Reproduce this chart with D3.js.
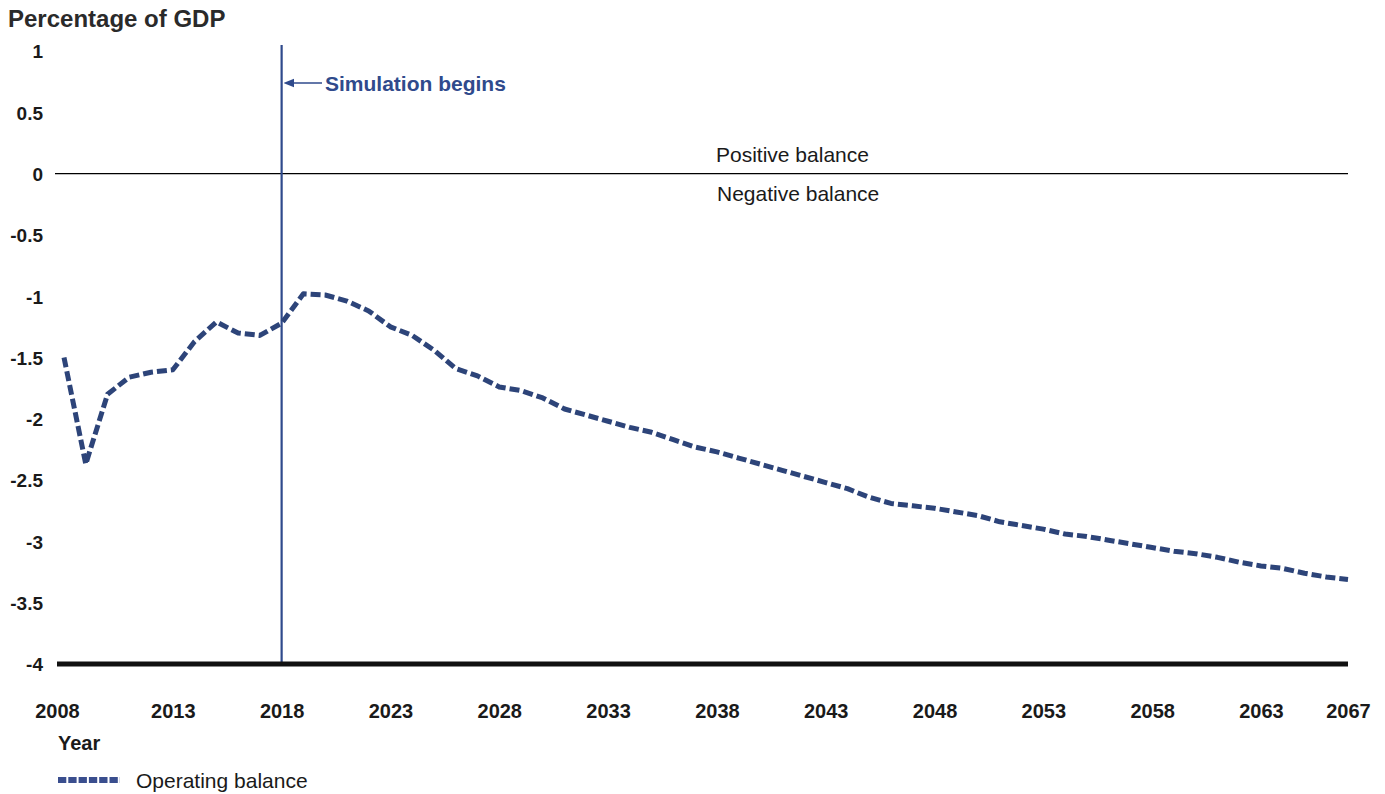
<!DOCTYPE html>
<html>
<head>
<meta charset="utf-8">
<script src="https://cdn.jsdelivr.net/npm/d3@7"></script>
<style>
    body { margin: 0; background: #fff; }
    svg { display: block; font-family: "Liberation Sans", Arial, sans-serif; }
</style>
</head>
<body>
<svg id="chart" width="1385" height="794"></svg>
<script>
// data
var years = d3.range(2008, 2068);
var operatingBalance = [
    -1.50, -2.37, -1.80, -1.66, -1.62, -1.60, -1.37, -1.21, -1.30, -1.32,
    -1.22, -0.98, -0.99, -1.04, -1.12, -1.25, -1.32, -1.44, -1.59, -1.65,
    -1.74, -1.77, -1.83, -1.92, -1.97, -2.02, -2.07, -2.11, -2.17, -2.23,
    -2.27, -2.32, -2.37, -2.42, -2.47, -2.52, -2.57, -2.64, -2.69, -2.71,
    -2.73, -2.76, -2.79, -2.84, -2.87, -2.90, -2.94, -2.96, -2.99, -3.02,
    -3.05, -3.08, -3.10, -3.13, -3.17, -3.20, -3.22, -3.26, -3.29, -3.31
];
var xTicks = [2008, 2013, 2018, 2023, 2028, 2033, 2038, 2043, 2048, 2053, 2058, 2063, 2067];
var yTicks = [1, 0.5, 0, -0.5, -1, -1.5, -2, -2.5, -3, -3.5, -4];
var simulationStart = 2018;

var svg = d3.select("#chart");
var blue = "#2d4479";
var markerBlue = "#2f4a8c";
var ink = "#1a1a1a";

var x = d3.scaleLinear().domain([2008, 2067]).range([64, 1348]);
var y = d3.scaleLinear().domain([-4, 1]).range([664, 51]);

// y axis labels (no axis line)
var yAxis = d3.axisLeft(y).tickValues(yTicks).tickSize(0).tickPadding(0)
    .tickFormat(function (d) { return String(d); });
var gy = svg.append("g").attr("transform", "translate(43,0)").call(yAxis);
gy.select(".domain").remove();
gy.selectAll("text")
    .attr("font-family", "Liberation Sans, Arial, sans-serif")
    .attr("font-size", 19).attr("font-weight", "bold").attr("fill", ink)
    .attr("dy", "0.36em");

// x axis labels
var xAxis = d3.axisBottom(x).tickValues(xTicks).tickSize(0).tickPadding(0).tickFormat(d3.format("d"));
var gx = svg.append("g").attr("transform", "translate(0,700)").call(xAxis);
gx.select(".domain").remove();
gx.selectAll("text")
    .attr("font-family", "Liberation Sans, Arial, sans-serif")
    .attr("font-size", 20).attr("font-weight", "bold").attr("fill", ink)
    .attr("dy", "0.36em").attr("y", 11)
    .attr("dx", function (d) { return d === 2008 ? -7 : 0; });

// zero line
svg.append("line")
    .attr("x1", 55).attr("x2", x(2067))
    .attr("y1", y(0)).attr("y2", y(0))
    .attr("stroke", "#000").attr("stroke-width", 1.2);

// simulation marker
svg.append("line")
    .attr("x1", x(simulationStart)).attr("x2", x(simulationStart))
    .attr("y1", 45).attr("y2", y(-4))
    .attr("stroke", markerBlue).attr("stroke-width", 2.2);

// bottom baseline
svg.append("line")
    .attr("x1", 57).attr("x2", x(2067))
    .attr("y1", y(-4)).attr("y2", y(-4))
    .attr("stroke", "#111").attr("stroke-width", 5);

// series
var line = d3.line()
    .x(function (d, i) { return x(years[i]); })
    .y(function (d) { return y(d); });

svg.append("path")
    .datum(operatingBalance)
    .attr("d", line)
    .attr("fill", "none")
    .attr("stroke", blue)
    .attr("stroke-width", 5)
    .attr("stroke-linejoin", "round")
    .attr("stroke-dasharray", "10,4");

// annotations
svg.append("defs").append("marker")
    .attr("id", "arrow").attr("viewBox", "0 0 10 10")
    .attr("refX", 1).attr("refY", 5)
    .attr("markerWidth", 7).attr("markerHeight", 7)
    .attr("orient", "auto")
    .append("path").attr("d", "M0,1 L10,5 L0,9 Z").attr("fill", markerBlue);

svg.append("line")
    .attr("x1", 322).attr("x2", 293)
    .attr("y1", 83).attr("y2", 83)
    .attr("stroke", markerBlue).attr("stroke-width", 1.5)
    .attr("marker-end", "url(#arrow)");

svg.append("text")
    .attr("x", 325).attr("y", 90.5)
    .attr("font-size", 21).attr("font-weight", "bold").attr("fill", markerBlue)
    .text("Simulation begins");

svg.append("text")
    .attr("x", 716).attr("y", 161.5)
    .attr("font-size", 21).attr("fill", ink)
    .text("Positive balance");

svg.append("text")
    .attr("x", 717).attr("y", 200.5)
    .attr("font-size", 21).attr("fill", ink)
    .text("Negative balance");

svg.append("text")
    .attr("x", 8).attr("y", 27)
    .attr("font-size", 24).attr("font-weight", "bold").attr("fill", "#2a2a2a")
    .text("Percentage of GDP");

svg.append("text")
    .attr("x", 58).attr("y", 750)
    .attr("font-size", 20).attr("font-weight", "bold").attr("fill", ink)
    .text("Year");

// legend
svg.append("line")
    .attr("x1", 58).attr("x2", 120)
    .attr("y1", 780).attr("y2", 780)
    .attr("stroke", "#3a4e8e").attr("stroke-width", 6)
    .attr("stroke-dasharray", "8.3,2");

svg.append("text")
    .attr("x", 136).attr("y", 787.5)
    .attr("font-size", 21).attr("fill", ink)
    .text("Operating balance");
</script>
</body>
</html>
